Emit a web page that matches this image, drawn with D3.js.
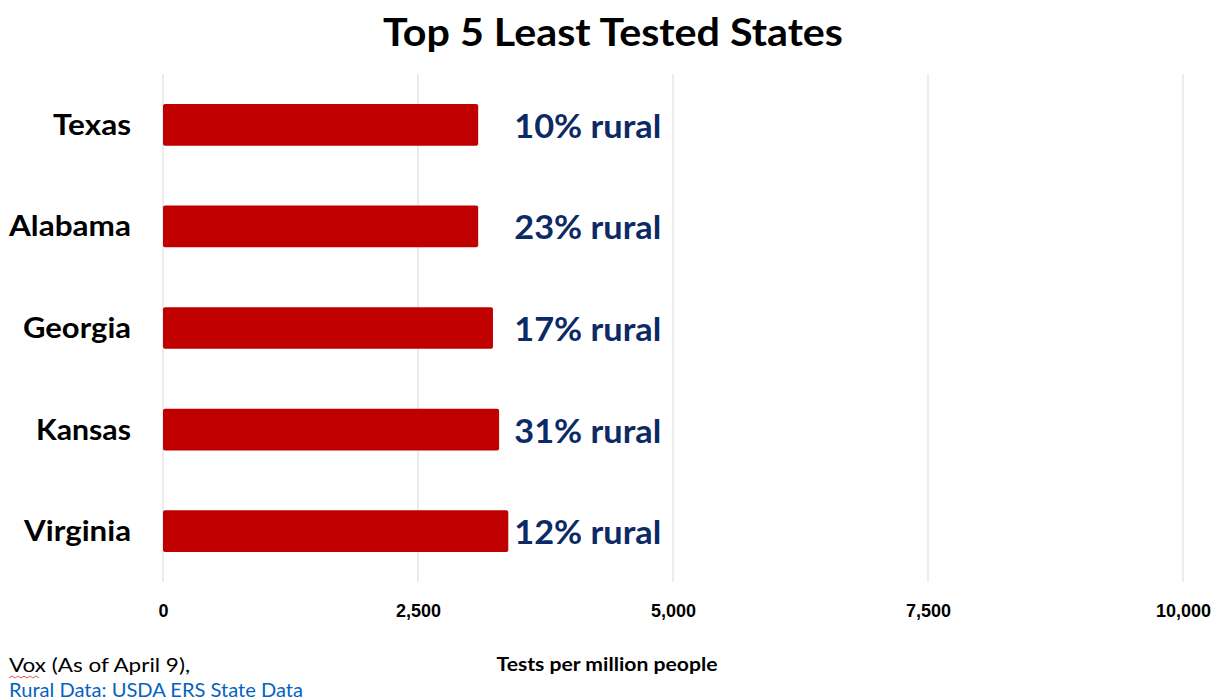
<!DOCTYPE html>
<html>
<head>
<meta charset="utf-8">
<script src="https://cdn.jsdelivr.net/npm/d3@7"></script>
<style>
  body { margin: 0; background: #fff; }
  svg { font-family: Lato, "Open Sans", sans-serif; }
</style>
</head>
<body>
<div id="chart"></div>
<script>
// data
const states = ["Texas", "Alabama", "Georgia", "Kansas", "Virginia"];
const testsPerMillion = [3090, 3090, 3235, 3295, 3385];
const ruralLabels = ["10% rural", "23% rural", "17% rural", "31% rural", "12% rural"];
const tickValues = [0, 2500, 5000, 7500, 10000];

const width = 1225, height = 700;
const margin = { top: 74, right: 42, bottom: 118, left: 163 };

// Calibri is not available, so texts get stretched to the widths seen in the reference
const stateWidths = { Texas: 78, Alabama: 122, Georgia: 108, Kansas: 95, Virginia: 107 };

const svg = d3.select("#chart")
    .append("svg")
    .attr("width", width)
    .attr("height", height);

const x = d3.scaleLinear()
    .domain([0, 10000])
    .range([margin.left, width - margin.right]);

const y = d3.scaleBand()
    .domain(states)
    .range([margin.top, height - margin.bottom])
    .paddingInner(0.59)
    .paddingOuter(0.295);

// gridlines
svg.append("g")
    .selectAll("line")
    .data(tickValues)
    .enter()
    .append("line")
    .attr("x1", d => x(d))
    .attr("x2", d => x(d))
    .attr("y1", margin.top)
    .attr("y2", height - margin.bottom)
    .style("stroke", "#d9d9d9")
    .style("stroke-width", 1);

// x axis, labels only
const xAxis = svg.append("g")
    .attr("transform", `translate(0,${height - margin.bottom})`)
    .call(d3.axisBottom(x).tickValues(tickValues).tickFormat(d3.format(",")).tickSize(0).tickPadding(22));
xAxis.select(".domain").remove();
xAxis.selectAll("text")
    .style("font-size", "18px")
    .style("font-weight", "bold")
    .style("fill", "#000");

// bars
svg.selectAll(".bar")
    .data(states)
    .enter()
    .append("rect")
    .attr("class", "bar")
    .attr("x", x(0))
    .attr("y", d => y(d))
    .attr("width", (d, i) => x(testsPerMillion[i]) - x(0))
    .attr("height", y.bandwidth())
    .attr("rx", 2)
    .style("fill", "#c00000");

// state names
svg.selectAll(".state")
    .data(states)
    .enter()
    .append("text")
    .attr("class", "state")
    .attr("x", 131)
    .attr("y", d => y(d) + y.bandwidth() / 2 + 10)
    .attr("text-anchor", "end")
    .attr("textLength", d => stateWidths[d])
    .attr("lengthAdjust", "spacingAndGlyphs")
    .style("font-size", "29px")
    .style("font-weight", "bold")
    .style("fill", "#000")
    .text(d => d);

// rural share labels
const labelX = x(d3.max(testsPerMillion)) + 6;
svg.selectAll(".rural")
    .data(states)
    .enter()
    .append("text")
    .attr("class", "rural")
    .attr("x", labelX)
    .attr("y", d => y(d) + y.bandwidth() / 2 + 13)
    .attr("textLength", 147)
    .attr("lengthAdjust", "spacingAndGlyphs")
    .style("font-size", "32px")
    .style("font-weight", "bold")
    .style("fill", "#0b2a66")
    .text((d, i) => ruralLabels[i]);

// title
svg.append("text")
    .attr("x", 613)
    .attr("y", 46)
    .attr("text-anchor", "middle")
    .attr("textLength", 460)
    .attr("lengthAdjust", "spacingAndGlyphs")
    .style("font-size", "39px")
    .style("font-weight", "bold")
    .style("fill", "#000")
    .text("Top 5 Least Tested States");

// axis title
svg.append("text")
    .attr("x", 607)
    .attr("y", 671)
    .attr("text-anchor", "middle")
    .attr("textLength", 221)
    .attr("lengthAdjust", "spacingAndGlyphs")
    .style("font-size", "18px")
    .style("font-weight", "bold")
    .style("fill", "#000")
    .text("Tests per million people");

// sources
svg.append("text")
    .attr("x", 9)
    .attr("y", 672)
    .attr("textLength", 181)
    .attr("lengthAdjust", "spacingAndGlyphs")
    .style("font-size", "19px")
    .style("fill", "#000")
    .text("Vox (As of April 9),");

// spell-check squiggle under "Vox"
svg.append("path")
    .attr("d", d3.range(0, 11).map(i => `${i === 0 ? "M" : "L"}${9 + i * 3},${i % 2 ? 676 : 678}`).join(""))
    .style("fill", "none")
    .style("stroke", "#e03030")
    .style("stroke-width", 0.8);

svg.append("text")
    .attr("x", 9)
    .attr("y", 697)
    .attr("textLength", 294)
    .attr("lengthAdjust", "spacingAndGlyphs")
    .style("font-size", "19px")
    .style("fill", "#0563c1")
    .text("Rural Data: USDA ERS State Data");
</script>
</body>
</html>
